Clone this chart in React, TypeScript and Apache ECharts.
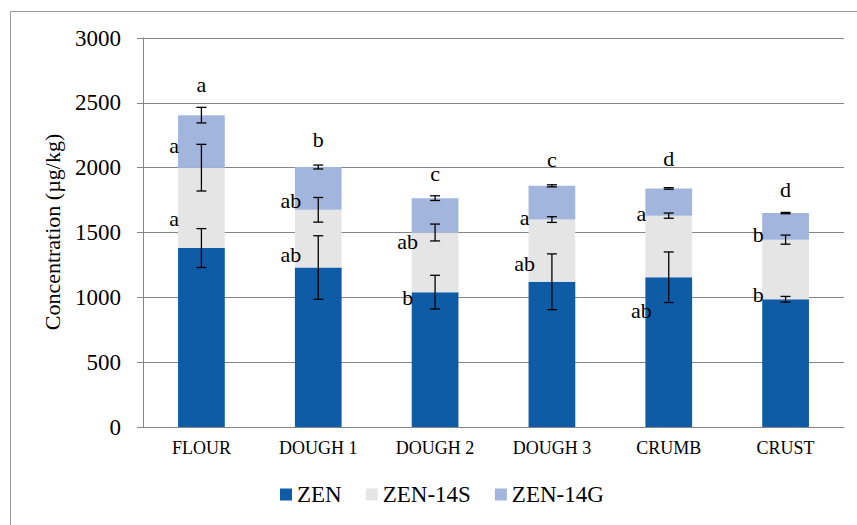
import React, { useEffect, useRef } from "react";
import * as echarts from "echarts";

const categories = ["FLOUR", "DOUGH 1", "DOUGH 2", "DOUGH 3", "CRUMB", "CRUST"];
const seriesNames = ["ZEN", "ZEN-14S", "ZEN-14G"];
const yTitleParts = ["Concentration (", "\u00B5", "g/kg)"];

const zen = [1380, 1230, 1040, 1120, 1155, 985];
const zen14s = [620, 445, 460, 480, 475, 460];
const zen14g = [405, 330, 265, 260, 210, 205];

const zenErr = [150, 245, 130, 215, 195, 22];
const zen14sErr = [180, 95, 65, 22, 20, 35];
const zen14gErr = [60, 15, 18, 8, 6, 5];

const zenLetters = ["a", "ab", "b", "ab", "ab", "b"];
const zen14sLetters = ["a", "ab", "ab", "a", "a", "b"];
const zen14gLetters = ["a", "b", "c", "c", "d", "d"];

// value at which each significance letter sits (baseline)
const zenLetterAt = [1558, 1283, 954, 1211, 856, 979];
const zen14sLetterAt = [2123, 1704, 1383, 1571, 1602, 1437];
const zen14gLetterAt = [2595, 2169, 1905, 2013, 2026, 1784];

const yTicks = [0, 500, 1000, 1500, 2000, 2500, 3000];

const COLORS = ["#0F5CA6", "#E5E5E5", "#A2B6DD"];
const FONT = "Liberation Serif";
const TITLE_SIZE = 22;

export default function App() {
  const ref = useRef<HTMLDivElement>(null);

  useEffect(() => {
    if (!ref.current) return;
    const chart = echarts.init(ref.current, undefined, { renderer: "svg" });

    const values = [zen, zen14s, zen14g];
    const errs = [zenErr, zen14sErr, zen14gErr];
    const cum: number[][] = [];
    let running = categories.map(() => 0);
    values.forEach((arr) => {
      running = running.map((r, i) => r + arr[i]);
      cum.push(running.slice());
    });

    // measure title pieces so they can be laid end to end
    const ctx = document.createElement("canvas").getContext("2d");
    const widths = yTitleParts.map((t) => {
      if (!ctx) return t.length * TITLE_SIZE * 0.45;
      ctx.font = `${TITLE_SIZE}px ${FONT}`;
      return ctx.measureText(t).width;
    });
    const total = widths.reduce((a, b) => a + b, 0);
    const titleCenterY = 232;
    let acc = 0;
    const titleTexts = yTitleParts.map((t, i) => {
      const y = titleCenterY + total / 2 - acc;
      acc += widths[i];
      return {
        type: "text",
        x: 52,
        y,
        rotation: Math.PI / 2,
        silent: true,
        style: {
          text: t,
          fontSize: TITLE_SIZE,
          fontFamily: FONT,
          fill: "#000",
          align: "left",
          verticalAlign: "middle",
        },
      };
    });

    const errorSeries = values.map((_, s) => ({
      type: "custom",
      name: "err" + s,
      silent: true,
      z: 10,
      coordinateSystem: "cartesian2d",
      encode: { x: 0, y: 1 },
      data: categories.map((_, i) => [i, cum[s][i], errs[s][i]]),
      renderItem: (params: any, api: any) => {
        const idx = api.value(0);
        const c = api.value(1);
        const e = api.value(2);
        const top = api.coord([idx, c + e]);
        const bot = api.coord([idx, c - e]);
        const x = top[0];
        const hw = 5;
        const style = { stroke: "#000", lineWidth: 1.3 };
        return {
          type: "group",
          children: [
            { type: "line", shape: { x1: x, y1: top[1], x2: x, y2: bot[1] }, style },
            { type: "line", shape: { x1: x - hw, y1: top[1], x2: x + hw, y2: top[1] }, style },
            { type: "line", shape: { x1: x - hw, y1: bot[1], x2: x + hw, y2: bot[1] }, style },
          ],
        };
      },
    }));

    const letterSets = [
      { letters: zenLetters, at: zenLetterAt, side: true },
      { letters: zen14sLetters, at: zen14sLetterAt, side: true },
      { letters: zen14gLetters, at: zen14gLetterAt, side: false },
    ];

    const letterSeries = letterSets.map((set, s) => ({
      type: "custom",
      name: "letters" + s,
      silent: true,
      z: 11,
      coordinateSystem: "cartesian2d",
      encode: { x: 0, y: 1 },
      data: categories.map((_, i) => [i, set.at[i]]),
      renderItem: (params: any, api: any) => {
        const idx = api.value(0);
        const p = api.coord([idx, api.value(1)]);
        const bw = api.size([1, 0])[0] * 0.4;
        const x = set.side ? p[0] - bw / 2 - 4 : p[0];
        return {
          type: "text",
          x,
          y: p[1] + 5,
          style: {
            text: set.letters[params.dataIndex],
            fontSize: 22,
            fontFamily: FONT,
            fill: "#000",
            align: "center",
            verticalAlign: "bottom",
          },
        };
      },
    }));

    chart.setOption({
      animation: false,
      backgroundColor: "#fff",
      textStyle: { fontFamily: FONT },
      graphic: [
        {
          type: "rect",
          shape: { x: 10.5, y: 11.5, width: 900, height: 600 },
          style: { fill: "none", stroke: "#9a9a9a", lineWidth: 1 },
          silent: true,
          z: -1,
        },
        ...titleTexts,
      ],
      grid: { left: 143, right: 13, top: 38, bottom: 98, containLabel: false },
      legend: {
        data: seriesNames,
        left: 280,
        top: 483,
        padding: 0,
        icon: "rect",
        itemWidth: 12,
        itemHeight: 12,
        itemGap: 24,
        textStyle: { fontSize: 23, fontFamily: FONT, color: "#000" },
      },
      xAxis: {
        type: "category",
        data: categories,
        axisLine: { lineStyle: { color: "#868686" } },
        axisTick: { length: 5, lineStyle: { color: "#868686" } },
        axisLabel: { fontSize: 18, fontFamily: FONT, color: "#000", margin: 12 },
      },
      yAxis: {
        type: "value",
        min: yTicks[0],
        max: yTicks[yTicks.length - 1],
        interval: 500,
        axisLine: { show: true, lineStyle: { color: "#868686" } },
        axisTick: { show: true, length: 6, lineStyle: { color: "#868686" } },
        axisLabel: {
          fontSize: 23,
          fontFamily: FONT,
          color: "#000",
          margin: 22,
          formatter: (v: number) => String(v),
        },
        splitLine: { lineStyle: { color: "#868686", width: 1 } },
      },
      series: [
        ...values.map((arr, s) => ({
          type: "bar",
          name: seriesNames[s],
          stack: "total",
          barWidth: "40%",
          itemStyle: { color: COLORS[s] },
          data: arr,
        })),
        ...errorSeries,
        ...letterSeries,
      ],
    });

    return () => chart.dispose();
  }, []);

  return (
    <div
      ref={ref}
      style={{ position: "fixed", left: 0, top: 0, width: 857, height: 525 }}
    />
  );
}
